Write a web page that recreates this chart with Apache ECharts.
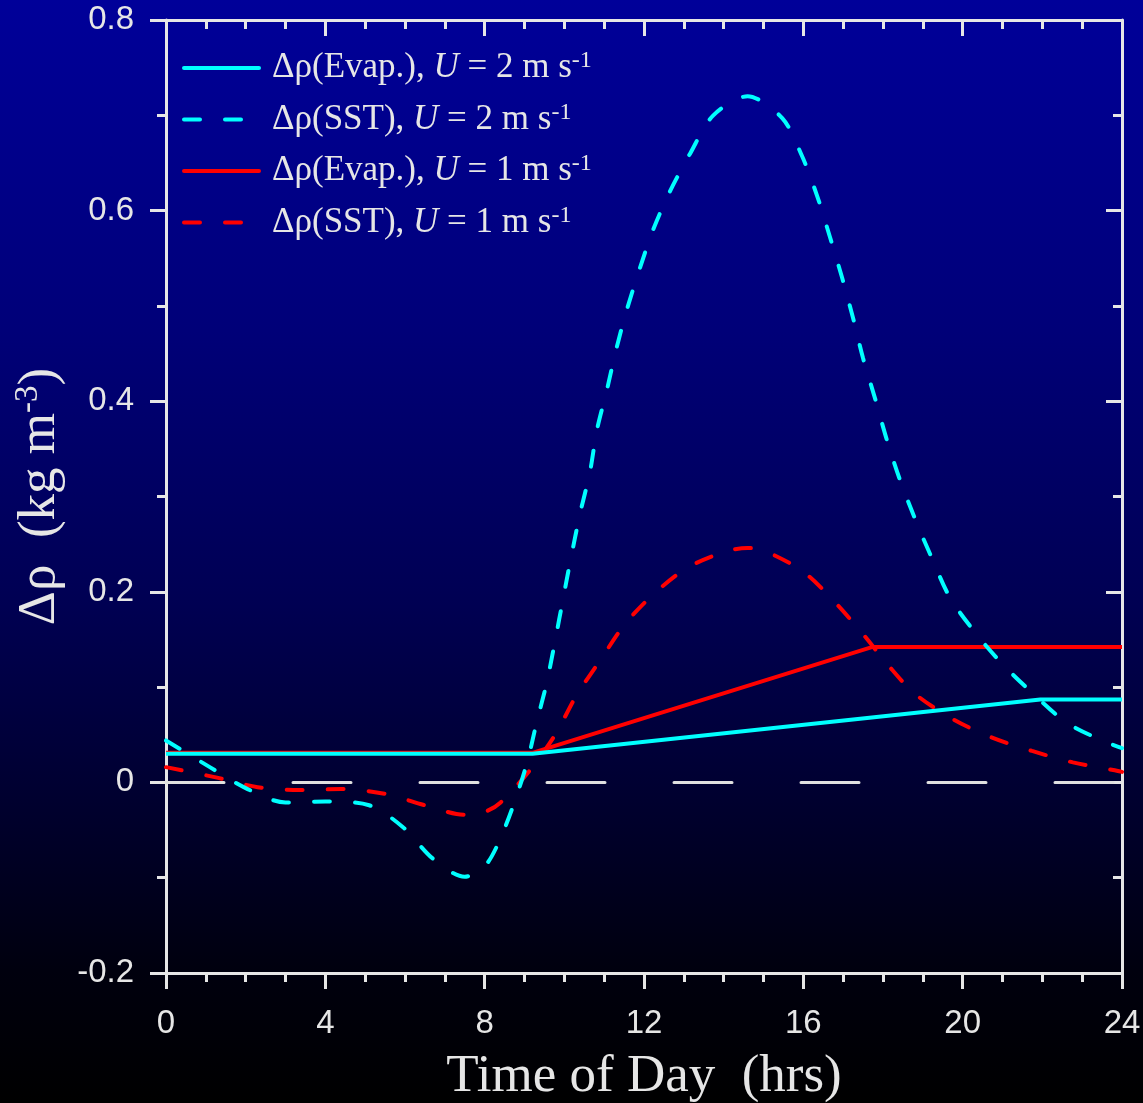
<!DOCTYPE html>
<html>
<head>
<meta charset="utf-8">
<script src="https://cdn.jsdelivr.net/npm/echarts@6/dist/echarts.min.js"></script>
<style>
html,body{margin:0;padding:0;background:#000;}
#chart{width:1143px;height:1103px;}
</style>
</head>
<body>
<div id="chart"></div>
<script>
// ---- data ----
const evapU2 = [[0,0.030],[9.2,0.030],[21.95,0.087],[24,0.087]];
const sstU2 = [[0,0.044],[1.1,0.016],[2.0,-0.006],[3.0,-0.021],[4.0,-0.020],[5.1,-0.024],[5.95,-0.047],[6.7,-0.080],[7.5,-0.099],[8.0,-0.088],[8.34,-0.064],[8.72,-0.024],[9.06,0.02],[9.3,0.062],[9.56,0.105],[9.77,0.149],[9.97,0.193],[10.14,0.23],[10.4,0.283],[10.64,0.325],[10.82,0.37],[11.07,0.412],[11.3,0.454],[11.57,0.496],[11.9,0.54],[12.23,0.58],[12.65,0.62],[13.16,0.66],[13.74,0.70],[14.6,0.72],[15.47,0.697],[15.97,0.657],[16.35,0.615],[16.67,0.572],[16.97,0.53],[17.25,0.487],[17.5,0.445],[17.8,0.403],[18.1,0.359],[18.43,0.317],[18.8,0.277],[19.23,0.235],[19.68,0.194],[20.3,0.158],[20.98,0.125],[21.77,0.093],[22.6,0.063],[23.5,0.044],[24,0.036]];
const evapU1 = [[0,0.031],[9.2,0.031],[17.72,0.142],[24,0.142]];
const sstU1 = [[0,0.016],[1.28,0.005],[2.3,-0.005],[3.36,-0.008],[4.4,-0.007],[5.5,-0.012],[6.5,-0.024],[7.5,-0.034],[8.0,-0.031],[8.4,-0.021],[9.14,0.013],[9.77,0.05],[10.3,0.091],[10.9,0.128],[11.5,0.165],[12.2,0.196],[13.08,0.225],[14.03,0.242],[14.6,0.246],[15.08,0.242],[16.0,0.221],[16.75,0.191],[17.47,0.157],[18.13,0.123],[18.8,0.093],[19.77,0.066],[20.74,0.047],[21.74,0.033],[22.77,0.021],[23.78,0.013],[24,0.011]];
const zeroLine = [[0,0],[24,0]];
const seriesNames = ['evapU2','sstU2','evapU1','sstU1'];
const legendKinds = ['Evap.','SST','Evap.','SST'];
const legendSpeeds = ['2','2','1','1'];
const xRange = [0,24];
const yRange = [-0.2,0.8];

const fg = '#e6e6e6';
const chart = echarts.init(document.getElementById('chart'));

function legendText(name){
  const i = seriesNames.indexOf(name);
  return '{n|\u0394\u03C1(' + legendKinds[i] + '), }{i|U}{n| = ' + legendSpeeds[i] + ' m s}{s|-1}';
}

const axisLineStyle = {color: fg, width: 3};
function xAxis(pos, inside, showLabel){
  return {
    type:'value', position:pos, min:xRange[0], max:xRange[1], interval:4,
    axisLine:{show:true, onZero:false, lineStyle:axisLineStyle},
    axisTick:{show:true, inside:inside, length:16, lineStyle:{color:fg, width:3}},
    minorTick:{show:true, splitNumber:4, length:9, lineStyle:{color:fg, width:3}},
    splitLine:{show:false},
    axisLabel:{show:showLabel, color:fg, fontFamily:'Liberation Sans', fontSize:33, margin:34},
    name: showLabel ? 'Time of Day  (hrs)' : '',
    nameLocation:'middle', nameGap:78,
    nameTextStyle:{color:fg, fontFamily:'Liberation Serif', fontSize:53}
  };
}
function yAxis(pos, inside, showLabel){
  return {
    type:'value', position:pos, min:yRange[0], max:yRange[1], interval:0.2,
    axisLine:{show:true, onZero:false, lineStyle:axisLineStyle},
    axisTick:{show:true, inside:inside, length:16, lineStyle:{color:fg, width:3}},
    minorTick:{show:true, splitNumber:2, length:9, lineStyle:{color:fg, width:3}},
    splitLine:{show:false},
    axisLabel:{show:showLabel, color:fg, fontFamily:'Liberation Sans', fontSize:33, margin:32,
      formatter:function(v){ const r = Math.round(v*10)/10; return r===0 ? '0' : r.toFixed(1); }},
    name: showLabel ? '{a|\u0394\u03C1  (kg m}{s|-3}{a|)}' : '',
    nameLocation:'middle', nameGap:98, nameRotate:90,
    nameTextStyle:{color:fg, rich:{
      a:{color:fg, fontFamily:'Liberation Serif', fontSize:53, lineHeight:56},
      s:{color:fg, fontFamily:'Liberation Serif', fontSize:33, verticalAlign:'top', lineHeight:56}
    }}
  };
}

const dash = [16,25];
const option = {
  animation:false,
  backgroundColor:{type:'linear', x:0, y:0, x2:0, y2:1, colorStops:[
    {offset:0, color:'#000099'},
    {offset:0.3, color:'#000078'},
    {offset:0.55, color:'#000052'},
    {offset:0.75, color:'#00002a'},
    {offset:0.88, color:'#00000e'},
    {offset:1, color:'#000000'}
  ]},
  grid:{left:166, top:20, width:956, height:953, containLabel:false, outerBoundsMode:'none'},
  xAxis:[xAxis('bottom', false, true), xAxis('top', true, false)],
  yAxis:[yAxis('left', false, true), yAxis('right', true, false)],
  legend:{
    data:seriesNames, orient:'vertical', left:182, top:49, padding:0,
    itemWidth:75, itemHeight:20, itemGap:15,
    itemStyle:{color:'transparent', borderWidth:0, opacity:0},
    lineStyle:{width:4, cap:'round'},
    formatter:legendText,
    textStyle:{color:fg, fontFamily:'Liberation Serif', fontSize:35, padding:[0,0,0,8], rich:{
      n:{color:fg, fontFamily:'Liberation Serif', fontSize:35, lineHeight:38},
      i:{color:fg, fontFamily:'Liberation Serif', fontSize:35, fontStyle:'italic', lineHeight:38},
      s:{color:fg, fontFamily:'Liberation Serif', fontSize:24, verticalAlign:'top', lineHeight:38}
    }}
  },
  series:[
    {name:'zero', type:'line', data:zeroLine, symbol:'none', silent:true, z:1,
      lineStyle:{color:'#e0e0e0', width:3, type:[58,69], cap:'round'}},
    {name:'evapU1', type:'line', data:evapU1, symbol:'none', z:2,
      lineStyle:{color:'#ff0000', width:4}, itemStyle:{color:'#ff0000'}},
    {name:'sstU1', type:'line', data:sstU1, symbol:'none', smooth:0.3, z:3,
      lineStyle:{color:'#ff0000', width:4, type:dash, cap:'round'}, itemStyle:{color:'#ff0000'}},
    {name:'sstU2', type:'line', data:sstU2, symbol:'none', smooth:0.3, z:4,
      lineStyle:{color:'#00ffff', width:4, type:dash, cap:'round'}, itemStyle:{color:'#00ffff'}},
    {name:'evapU2', type:'line', data:evapU2, symbol:'none', z:5,
      lineStyle:{color:'#00ffff', width:4}, itemStyle:{color:'#00ffff'}}
  ]
};
chart.setOption(option);
</script>
</body>
</html>
